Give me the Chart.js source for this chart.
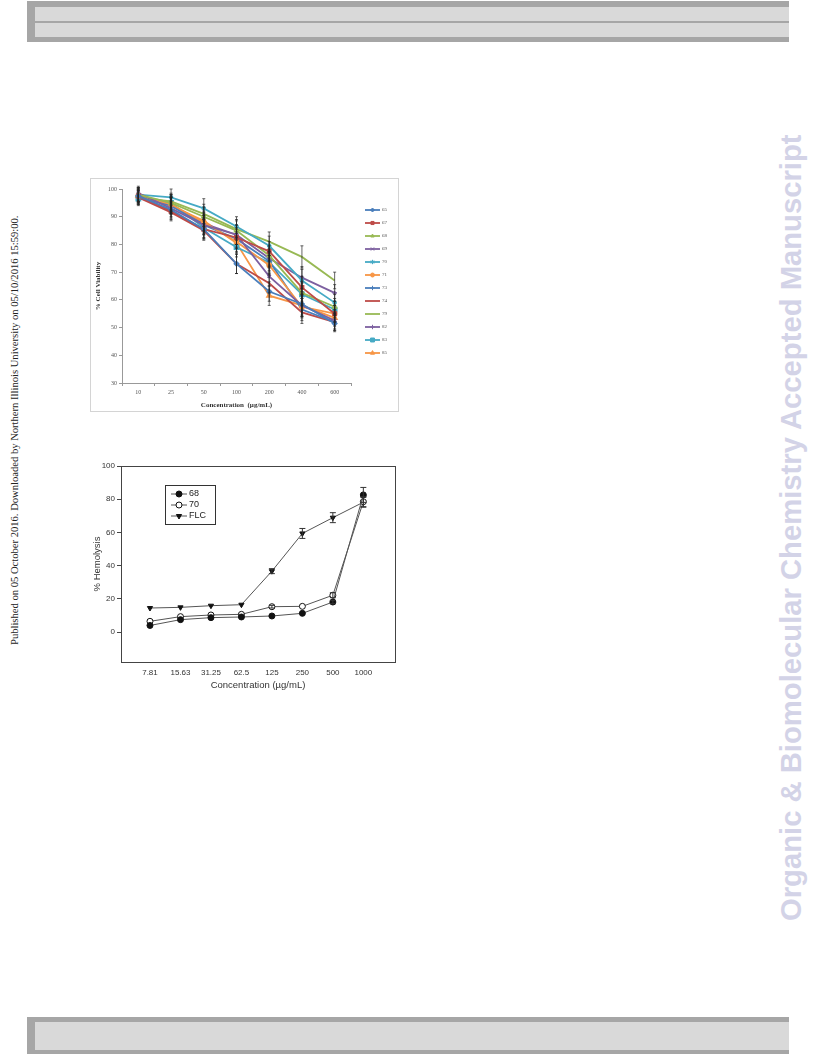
<!DOCTYPE html>
<html>
<head>
<meta charset="utf-8">
<script src="https://cdn.jsdelivr.net/npm/chart.js@4.4.0/dist/chart.umd.min.js"></script>
<style>
  body { margin: 0; width: 816px; height: 1056px; position: relative; background: #fff; overflow: hidden; }
  .outer { position: absolute; left: 27px; width: 762px; background: #a6a6a6; }
  .inner { position: absolute; left: 8px; right: 0; background: #d9d9d9; }
  .rot { position: absolute; white-space: nowrap; transform-origin: 0 0; }
  #side { font-family: "Liberation Serif", serif; font-size: 10px; color: #222; }
  #mark { font-family: "Liberation Sans", Arial, sans-serif; font-weight: bold; font-size: 29px; color: #d3d3e7; }
  #box1 { position: absolute; left: 90px; top: 178px; width: 309px; height: 234px; border: 1px solid #d4d4d4; box-sizing: border-box; }
  canvas { position: absolute; }
</style>
</head>
<body>
<div class="outer" style="top:1px;height:41px">
  <div class="inner" style="top:6px;height:14px"></div>
  <div class="inner" style="top:22px;height:14px"></div>
</div>
<div class="outer" style="top:1017px;height:37px">
  <div class="inner" style="top:5px;height:28px"></div>
</div>

<span id="side" class="rot">Published on 05 October 2016. Downloaded by Northern Illinois University on 05/10/2016 15:59:00.</span>
<span id="mark" class="rot">Organic &amp; Biomolecular Chemistry Accepted Manuscript</span>

<div id="box1"></div>
<canvas id="c1" width="309" height="234" style="left:90px;top:178px"></canvas>
<canvas id="c2" width="345" height="240" style="left:60px;top:455px"></canvas>

<script>
// ---- chart 1: % cell viability ----
const conc1 = ['10', '25', '50', '100', '200', '400', '600'];
const names1 = ['65', '67', '68', '69', '70', '71', '73', '74', '79', '82', '83', '85'];
const v65 = [97.5, 92.5, 85.5, 73, 63, 58.5, 51.5];
const v67 = [97.5, 92, 85.5, 82.5, 77.5, 64.5, 55];
const v68 = [98, 95, 90, 85, 76, 62.5, 57.5];
const v69 = [98.5, 93, 87, 83.5, 68.5, 58, 52.5];
const v70 = [98, 97, 93, 86.5, 79.5, 67, 59];
const v71 = [97.5, 94.5, 88, 81, 72.5, 57.5, 55];
const v73 = [97, 94, 87, 82, 74, 56.5, 52];
const v74 = [97, 91.5, 85, 73, 66, 55.5, 52];
const v79 = [97, 95.5, 91, 85.5, 81, 75.5, 67];
const v82 = [98, 94, 87.5, 83.5, 75, 68, 62.5];
const v83 = [96.5, 95, 86, 79, 73.5, 62, 56.5];
const v85 = [97.5, 94, 88.5, 80.5, 61.5, 58, 53.5];
const err1 = [2.5, 3, 3.5, 3.5, 3.5, 4, 3];

// ---- chart 2: % hemolysis ----
const conc2 = [7.81, 15.63, 31.25, 62.5, 125, 250, 500, 1000];
const labels2 = ['7.81', '15.63', '31.25', '62.5', '125', '250', '500', '1000'];
const names2 = ['68', '70', 'FLC'];
const h68 = [4.0, 7.5, 8.7, 9.1, 9.7, 11.3, 18.1, 82.6];
const h70 = [6.5, 9.3, 10.3, 10.7, 15.3, 15.5, 22.2, 78.5];
const hFLC = [14.5, 14.9, 15.9, 16.5, 36.7, 59.4, 68.9, 78.2];
const e68 = [0, 0, 0, 0, 0, 0, 1, 4.5];
const e70 = [0, 0, 0, 0, 0.8, 0, 1.5, 3];
const eFLC = [0, 0, 0, 0, 1.5, 3, 3, 3];
const yTicks2 = [0, 20, 40, 60, 80, 100];

// side texts, fitted to their length on the page
function place(id, cx, cy, len) {
  const el = document.getElementById(id);
  const w = el.offsetWidth, h = el.offsetHeight;
  const s = len / w;
  el.style.left = (cx - h / 2) + 'px';
  el.style.top = (cy + len / 2) + 'px';
  el.style.transform = 'rotate(-90deg) scaleX(' + s + ')';
}
place('side', 14, 430, 430);
place('mark', 791, 527, 787);

const errorBars = {
  id: 'errorBars',
  afterDatasetsDraw(chart, args, opts) {
    const ctx = chart.ctx, ys = chart.scales.y;
    ctx.save();
    ctx.strokeStyle = opts.color || '#000';
    ctx.lineWidth = opts.width || 1;
    chart.data.datasets.forEach((ds, i) => {
      if (!ds.errors) return;
      const meta = chart.getDatasetMeta(i);
      meta.data.forEach((pt, j) => {
        const e = ds.errors[j];
        if (!e) return;
        const v = meta.controller.getParsed(j).y;
        const t = ys.getPixelForValue(v + e), b = ys.getPixelForValue(v - e);
        const c = opts.cap || 2;
        ctx.beginPath();
        ctx.moveTo(pt.x, t); ctx.lineTo(pt.x, b);
        ctx.moveTo(pt.x - c, t); ctx.lineTo(pt.x + c, t);
        ctx.moveTo(pt.x - c, b); ctx.lineTo(pt.x + c, b);
        ctx.stroke();
      });
    });
    ctx.restore();
  }
};

const lineLegend = {
  id: 'lineLegend',
  afterDraw(chart, args, o) {
    if (!o.x) return;
    const ctx = chart.ctx;
    ctx.save();
    if (o.box) {
      ctx.strokeStyle = '#333';
      ctx.lineWidth = 1;
      ctx.strokeRect(o.box[0] + 0.5, o.box[1] + 0.5, o.box[2], o.box[3]);
    }
    ctx.font = o.font;
    ctx.textBaseline = 'middle';
    chart.data.datasets.forEach((ds, i) => {
      const y = o.y + i * o.dy;
      ctx.strokeStyle = ds.borderColor;
      ctx.lineWidth = ds.borderWidth;
      ctx.beginPath();
      ctx.moveTo(o.x, y); ctx.lineTo(o.x + o.len, y);
      ctx.stroke();
      if (ds.pointRadius > 0) {
        ctx.fillStyle = ds.pointBackgroundColor;
        ctx.strokeStyle = ds.pointBorderColor;
        ctx.lineWidth = 1;
        Chart.helpers.drawPoint(ctx, {pointStyle: ds.pointStyle, radius: ds.pointRadius,
          rotation: ds.pointRotation || 0, borderWidth: 1}, o.x + o.len / 2, y);
      }
      ctx.fillStyle = o.color;
      ctx.fillText(ds.label, o.x + o.len + 2, y);
    });
    ctx.restore();
  }
};

const frame = {
  id: 'frame',
  afterDraw(chart, args, o) {
    if (!o.on) return;
    const a = chart.chartArea, ctx = chart.ctx;
    ctx.save();
    ctx.strokeStyle = '#444';
    ctx.lineWidth = 1;
    ctx.strokeRect(Math.round(a.left) + 0.5, Math.round(a.top) + 0.5,
      Math.round(a.right - a.left), Math.round(a.bottom - a.top));
    ctx.restore();
  }
};

Chart.register(errorBars, lineLegend, frame);

const blue = '#4a7ebb', red = '#be4b48', green = '#98b954', purple = '#7d60a0', aqua = '#46aac5', orange = '#f79646';
const look1 = [
  [blue, 'rectRot', 2], [red, 'rect', 2.2], [green, 'triangle', 2], [purple, 'crossRot', 2.2],
  [aqua, 'star', 2.2], [orange, 'circle', 2], [blue, 'cross', 2.2], [red, 'circle', 0],
  [green, 'circle', 0], [purple, 'cross', 2.2], [aqua, 'rect', 2.8], [orange, 'triangle', 2.4]
];
const vals1 = [v65, v67, v68, v69, v70, v71, v73, v74, v79, v82, v83, v85];

let data_set1 = [];
names1.forEach(function (n, i) {
  const lk = look1[i];
  data_set1.push({
    label: n,
    data: vals1[i],
    errors: err1,
    borderColor: lk[0],
    backgroundColor: lk[0],
    pointBackgroundColor: lk[0],
    pointBorderColor: lk[0],
    borderWidth: 1.8,
    pointStyle: lk[1],
    pointRadius: lk[2],
    fill: false
  });
});

const serif = 'Liberation Serif';
new Chart(document.getElementById('c1').getContext('2d'), {
  type: 'line',
  data: { labels: conc1, datasets: data_set1 },
  options: {
    responsive: false,
    animation: false,
    layout: { padding: { left: 0, right: 48, top: 11, bottom: 0 } },
    plugins: {
      legend: { display: false },
      tooltip: { enabled: false },
      errorBars: { color: '#222', width: 0.7, cap: 1.5 },
      lineLegend: { x: 275, y: 32, dy: 13, len: 15, font: '5px ' + serif, color: '#555' }
    },
    scales: {
      x: {
        offset: true,
        afterFit(s) { s.height = 29; },
        grid: { drawOnChartArea: false, offset: true, tickLength: 3, color: '#999' },
        border: { color: '#999' },
        ticks: { font: { family: serif, size: 6 }, color: '#555', padding: 3 },
        title: { display: true, text: 'Concentration  (µg/mL)', font: { family: serif, size: 7, weight: 'bold' }, color: '#333', padding: { top: 0, bottom: 3 } }
      },
      y: {
        min: 30, max: 100,
        afterFit(s) { s.width = 32; },
        grid: { drawOnChartArea: false, tickLength: 3, color: '#999' },
        border: { color: '#999' },
        ticks: { stepSize: 10, font: { family: serif, size: 6 }, color: '#555', padding: 2 },
        title: { display: true, text: '% Cell Viability', font: { family: serif, size: 7, weight: 'bold' }, color: '#333', padding: { top: 4, bottom: 0 } }
      }
    }
  }
});

// chart 2
const vals2 = [h68, h70, hFLC];
const errs2 = [e68, e70, eFLC];
const look2 = [['circle', '#111', 0], ['circle', '#fff', 0], ['triangle', '#111', 180]];
let data_set2 = [];
names2.forEach(function (n, i) {
  data_set2.push({
    label: n,
    data: conc2.map((c, j) => ({ x: c, y: vals2[i][j] })),
    errors: errs2[i],
    borderColor: '#555',
    borderWidth: 1,
    pointStyle: look2[i][0],
    pointBackgroundColor: look2[i][1],
    pointBorderColor: '#111',
    pointBorderWidth: 1,
    pointRotation: look2[i][2],
    pointRadius: 3,
    fill: false
  });
});

const sans = 'Liberation Sans';
new Chart(document.getElementById('c2').getContext('2d'), {
  type: 'line',
  data: { datasets: data_set2 },
  options: {
    responsive: false,
    animation: false,
    layout: { padding: { left: 0, right: 10, top: 11, bottom: 0 } },
    plugins: {
      legend: { display: false },
      tooltip: { enabled: false },
      frame: { on: true },
      errorBars: { color: '#333', width: 1, cap: 3 },
      lineLegend: { x: 111, y: 39, dy: 11, len: 16, font: '9px ' + sans, color: '#222', box: [105, 30, 50, 39] }
    },
    scales: {
      x: {
        type: 'logarithmic',
        min: 4.04, max: 2055,
        afterFit(s) { s.height = 33; },
        afterBuildTicks(s) { s.ticks = conc2.map(v => ({ value: v })); },
        grid: { display: false, drawTicks: false, tickLength: 0 },
        border: { color: '#444' },
        ticks: { autoSkip: false, maxRotation: 0, font: { family: sans, size: 8 }, color: '#333', padding: 6,
          callback: (v, i) => labels2[i] },
        title: { display: true, text: 'Concentration (µg/mL)', font: { family: sans, size: 9.5 }, color: '#333', padding: { top: 0, bottom: 4 } }
      },
      y: {
        min: -18, max: 100,
        afterFit(s) { s.width = 61; },
        afterBuildTicks(s) { s.ticks = yTicks2.map(v => ({ value: v })); },
        grid: { drawOnChartArea: false, tickLength: 4, color: '#444' },
        border: { color: '#444' },
        ticks: { font: { family: sans, size: 8 }, color: '#333', padding: 2 },
        title: { display: true, text: '% Hemolysis', font: { family: sans, size: 9.5 }, color: '#333', padding: { top: 32, bottom: 0 } }
      }
    }
  }
});
</script>
</body>
</html>
